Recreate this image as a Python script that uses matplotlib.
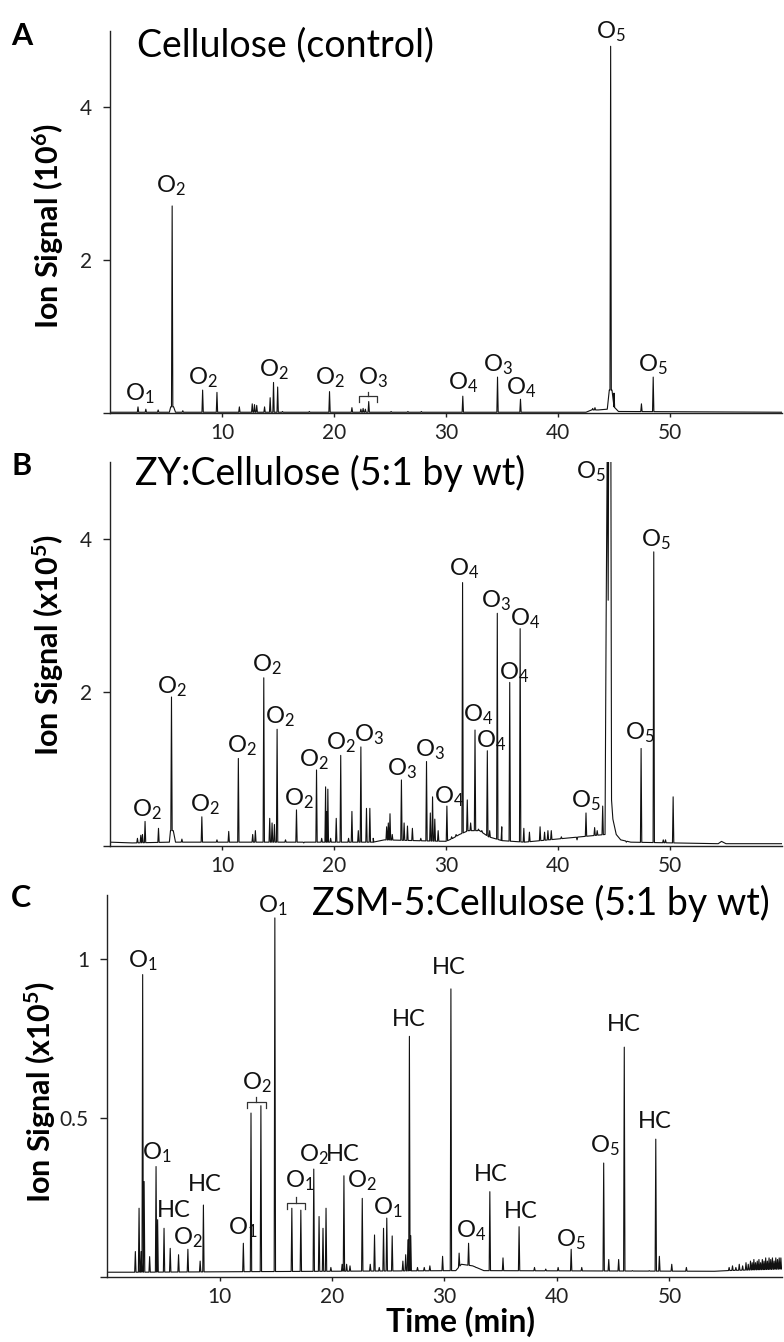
import numpy as np
import matplotlib
matplotlib.use("Agg")
import matplotlib.pyplot as plt

plt.rcParams['font.family'] = ['Lato', 'DejaVu Sans']
plt.rcParams['mathtext.fontset'] = 'custom'
plt.rcParams['mathtext.rm'] = 'Lato'
plt.rcParams['mathtext.default'] = 'regular'

# ---------------- data ----------------
# Panel A: Cellulose (control), signal in 1e6
A_base_t = [0.0, 5.3, 5.42, 5.68, 5.85, 42.5, 43.0, 43.6, 44.4, 44.58, 44.82, 45.0, 45.4, 60.0]
A_base_v = [0.01, 0.01, 0.08, 0.08, 0.01, 0.01, 0.04, 0.04, 0.05, 0.3, 0.3, 0.08, 0.02, 0.01]
A_peak_t = [2.5, 3.2, 4.3, 5.55, 6.5, 8.27, 9.55, 11.55, 12.7, 12.9, 13.1, 13.8, 14.3, 14.6,
            14.97, 15.4, 17.8, 19.6, 21.6, 22.4, 22.6, 22.8, 23.1, 25.1, 26.6, 27.8, 31.5,
            34.6, 36.65, 43.1, 43.3, 44.7, 45.0, 47.45, 48.5]
A_peak_h = [0.08, 0.05, 0.04, 2.71, 0.03, 0.30, 0.27, 0.08, 0.12, 0.11, 0.10, 0.08, 0.20, 0.40,
            0.34, 0.02, 0.02, 0.28, 0.07, 0.05, 0.06, 0.05, 0.15, 0.02, 0.02, 0.02, 0.22,
            0.47, 0.18, 0.06, 0.07, 4.80, 0.26, 0.12, 0.47]
A_lab_text = ['O$_1$', 'O$_2$', 'O$_2$', 'O$_2$', 'O$_2$', 'O$_3$', 'O$_4$', 'O$_3$', 'O$_4$', 'O$_5$', 'O$_5$']
A_lab_t = [2.7, 5.4, 8.3, 14.6, 19.6, 23.45, 31.5, 34.65, 36.7, 44.7, 48.5]
A_lab_v = [0.09, 2.81, 0.30, 0.41, 0.30, 0.30, 0.24, 0.47, 0.17, 4.83, 0.47]
A_brackets = [(22.2, 23.8, 0.148, 0.222, 0.28)]

# Panel B: ZY:Cellulose, signal in 1e5
B_base_t = [0.0, 2.0, 5.3, 5.4, 5.65, 5.85, 23.5, 24.5, 30.0, 30.6, 31.2, 32.0, 33.0, 33.8, 35.0,
            37.0, 44.2, 44.3, 44.4, 44.48, 44.52, 44.72, 44.78, 44.9, 45.2, 45.6, 46.5,
            54.3, 54.6, 55.0, 60.0]
B_base_v = [0.05, 0.04, 0.05, 0.2, 0.2, 0.05, 0.05, 0.08, 0.06, 0.10, 0.15, 0.20, 0.20, 0.12, 0.07,
            0.05, 0.15, 3.0, 5.3, 3.2, 5.3, 5.3, 0.6, 0.35, 0.15, 0.08, 0.05,
            0.03, 0.06, 0.03, 0.03]
B_peak_t = [2.45, 2.75, 2.9, 3.13, 4.33, 5.49, 6.42, 8.2, 9.55, 10.6, 11.46, 12.74, 12.98, 13.73,
            14.26, 14.47, 14.68, 14.92, 15.67, 16.65, 17.3, 17.6, 18.0, 18.44, 18.9, 19.25,
            19.35, 19.45, 19.7, 20.2, 20.6, 21.3, 21.6, 22.17, 22.4, 22.9, 23.2, 23.5, 24.7,
            24.85, 25.0, 25.2, 26.02, 26.26, 26.56, 27.0, 27.75, 28.26, 28.6, 28.8, 29.0, 29.3,
            30.08, 30.5, 30.9, 31.48, 31.9, 32.2, 32.59, 32.9, 33.2, 33.69, 33.9, 34.58, 34.98,
            35.69, 36.62, 36.95, 37.45, 38.4, 38.8, 39.1, 39.4, 40.3, 41.7, 42.5, 43.27, 43.5,
            43.99, 46.1, 47.42, 48.55, 49.4, 49.6, 50.28]
B_peak_h = [0.10, 0.14, 0.15, 0.32, 0.23, 1.94, 0.09, 0.38, 0.08, 0.19, 1.14, 0.15, 0.20, 2.19,
            0.36, 0.30, 0.28, 1.52, 0.08, 0.47, 0.04, 0.05, 0.05, 0.99, 0.10, 0.77,
            0.45, 0.74, 0.10, 0.36, 1.18, 0.10, 0.45, 0.20, 1.29, 0.49, 0.49, 0.10, 0.25,
            0.30, 0.42, 0.15, 0.86, 0.30, 0.26, 0.23, 0.10, 1.10, 0.43, 0.64, 0.35, 0.20,
            0.52, 0.12, 0.15, 3.43, 0.60, 0.30, 1.51, 0.22, 0.20, 1.24, 0.20, 3.03, 0.25,
            2.13, 2.83, 0.23, 0.18, 0.25, 0.18, 0.20, 0.20, 0.12, 0.08, 0.43, 0.24, 0.20,
            0.52, 0.05, 1.27, 3.83, 0.08, 0.08, 0.64]
B_lab_text = ['O$_2$'] * 9 + ['O$_3$', 'O$_3$', 'O$_3$', 'O$_4$', 'O$_4$', 'O$_4$', 'O$_4$', 'O$_3$',
                               'O$_4$', 'O$_4$', 'O$_5$', 'O$_5$', 'O$_5$', 'O$_5$']
B_lab_t = [3.3, 5.52, 8.5, 11.73, 13.97, 15.2, 16.9, 18.2, 20.65, 23.1, 26.1, 28.6, 30.3, 31.6,
           32.9, 34.0, 34.5, 36.05, 37.1, 42.45, 42.9, 47.3, 48.7]
B_lab_v = [0.31, 1.92, 0.38, 1.14, 2.2, 1.52, 0.46, 0.97, 1.18, 1.29, 0.84, 1.1, 0.48, 3.45,
           1.55, 1.21, 3.03, 2.09, 2.8, 0.43, 4.71, 1.31, 3.83]

# Panel C: ZSM-5:Cellulose, signal in 1e5
C_base_t = [0.0, 2.3, 31.0, 31.5, 32.5, 33.5, 54.0, 55.0, 60.0]
C_base_v = [0.015, 0.015, 0.02, 0.04, 0.035, 0.02, 0.018, 0.02, 0.025]
C_peak_t = [2.52, 2.85, 3.03, 3.17, 3.3, 3.79, 4.36, 4.5, 5.07, 5.62, 6.36, 7.19, 8.28, 8.57,
            12.12, 12.8, 13.68, 14.92, 16.43, 17.23, 18.38, 18.85, 19.2, 19.47, 19.9, 20.9,
            21.06, 21.3, 21.6, 22.69, 23.4, 23.78, 24.2, 24.58, 24.87, 25.35, 26.3, 26.55,
            26.75, 26.88, 27.0, 27.6, 28.2, 28.7, 29.83, 30.57, 31.3, 32.14, 32.8, 34.03,
            35.2, 36.63, 38.0, 39.0, 40.1, 41.26, 42.2, 44.15, 44.6, 45.48, 45.98, 46.7,
            48.2, 48.78, 49.1, 50.2, 51.5]
C_peak_h = [0.08, 0.216, 0.08, 0.95, 0.30, 0.064, 0.347, 0.18, 0.153, 0.09, 0.07, 0.087, 0.05, 0.226,
            0.106, 0.515, 0.538, 1.128, 0.216, 0.21, 0.339, 0.19, 0.153, 0.216, 0.03, 0.04,
            0.318, 0.04, 0.035, 0.247, 0.04, 0.132, 0.03, 0.153, 0.185, 0.129, 0.05, 0.07,
            0.117, 0.756, 0.13, 0.03, 0.03, 0.035, 0.065, 0.905, 0.075, 0.106, 0.03, 0.268,
            0.06, 0.158, 0.03, 0.025, 0.03, 0.087, 0.03, 0.358, 0.055, 0.055, 0.722, 0.02,
            0.02, 0.433, 0.065, 0.04, 0.03]
# noisy tail of panel C
C_noise_t = [55.3, 55.6, 55.9, 56.2, 56.5, 56.8, 57.0, 57.2, 57.35, 57.5, 57.65, 57.8, 57.95,
             58.1, 58.25, 58.4, 58.55, 58.7, 58.85, 59.0, 59.15, 59.3, 59.45, 59.6, 59.75, 59.9]
C_noise_h = [0.03, 0.035, 0.03, 0.04, 0.035, 0.045, 0.04, 0.05, 0.045, 0.055, 0.045, 0.05, 0.055,
             0.045, 0.055, 0.05, 0.06, 0.05, 0.06, 0.055, 0.06, 0.05, 0.06, 0.055, 0.06, 0.06]
C_lab_text = ['O$_1$', 'O$_1$', 'HC', 'O$_2$', 'HC', 'O$_1$', 'O$_2$', 'O$_1$', 'O$_1$', 'O$_2$',
              'HC', 'O$_2$', 'O$_1$', 'HC', 'HC', 'O$_4$', 'HC', 'HC', 'O$_5$', 'O$_5$', 'HC', 'HC']
C_lab_t = [3.2, 4.45, 5.9, 7.2, 8.67, 12.1, 13.35, 14.77, 17.14, 18.38, 21.0, 22.69, 24.95,
           26.84, 30.4, 32.4, 34.08, 36.75, 41.26, 44.21, 45.9, 48.7]
C_lab_v = [0.955, 0.352, 0.177, 0.085, 0.258, 0.116, 0.572, 1.128, 0.263, 0.347, 0.352, 0.263,
           0.18, 0.777, 0.939, 0.108, 0.289, 0.174, 0.08, 0.373, 0.761, 0.457]
C_brackets = [(12.45, 14.1, 0.53, 0.551, 0.567), (15.96, 17.58, 0.213, 0.234, 0.25)]

# ---------------- helpers ----------------
def build_trace(base_t, base_v, pk_t, pk_h, w=0.06):
    bt = np.asarray(base_t, float)
    bv = np.asarray(base_v, float)
    pt = np.asarray(pk_t, float)
    ph = np.asarray(pk_h, float)
    xs = np.concatenate([bt, pt - w, pt, pt + w])
    ys = np.concatenate([bv, np.interp(pt - w, bt, bv), ph, np.interp(pt + w, bt, bv)])
    order = np.argsort(xs, kind='stable')
    return xs[order], ys[order]


def style_axes(ax, ymax, yticks, ylabels):
    ax.set_xlim(0, 60)
    ax.set_ylim(0, ymax)
    for s in ['top', 'right']:
        ax.spines[s].set_visible(False)
    for s in ['left', 'bottom']:
        ax.spines[s].set_linewidth(1.0)
        ax.spines[s].set_color('#222222')
    ax.set_xticks([10, 20, 30, 40, 50])
    ax.set_yticks(yticks)
    ax.set_yticklabels(ylabels)
    ax.tick_params(axis='y', direction='out', length=5, width=1, pad=8, labelsize=15, colors='#222222')
    ax.tick_params(axis='x', direction='out', length=3, width=1, pad=4, labelsize=15, colors='#222222')


def draw_labels(ax, texts, ts, vs):
    for s, t, v in zip(texts, ts, vs):
        ax.text(t, v, s, ha='center', va='bottom', fontsize=17, color='#111111', clip_on=False)


def draw_brackets(ax, brackets):
    for x0, x1, yb, yt, ytick in brackets:
        xm = (x0 + x1) / 2
        ax.plot([x0, x0, x1, x1], [yb, yt, yt, yb], color='#333333', lw=0.9)
        ax.plot([xm, xm], [yt, ytick], color='#333333', lw=0.9)


W, H = 784, 1342
fig = plt.figure(figsize=(W / 100, H / 100), dpi=100)

def px_axes(left, top, right, bottom):
    return fig.add_axes([left / W, 1 - bottom / H, (right - left) / W, (bottom - top) / H])

axA = px_axes(110, 31, 782, 413)
axB = px_axes(110, 462, 782, 846)
axC = px_axes(107, 895, 782, 1277)

line_kw = dict(color='#111111', lw=0.8)

x, y = build_trace(A_base_t, A_base_v, A_peak_t, A_peak_h)
axA.plot(x, y, **line_kw)
style_axes(axA, 5, [0, 2, 4], ['', '2', '4'])
draw_labels(axA, A_lab_text, A_lab_t, A_lab_v)
draw_brackets(axA, A_brackets)

x, y = build_trace(B_base_t, B_base_v, B_peak_t, B_peak_h)
axB.plot(x, y, **line_kw)
style_axes(axB, 5, [0, 2, 4], ['', '2', '4'])
draw_labels(axB, B_lab_text, B_lab_t, B_lab_v)

x, y = build_trace(C_base_t, C_base_v, C_peak_t + C_noise_t, C_peak_h + C_noise_h)
axC.plot(x, y, **line_kw)
style_axes(axC, 1.2, [0, 0.5, 1], ['', '0.5', '1'])
draw_labels(axC, C_lab_text, C_lab_t, C_lab_v)
draw_brackets(axC, C_brackets)

# titles, panel letters, axis labels (figure pixel positions)
def ftext(xp, yp, s, **kw):
    fig.text(xp / W, 1 - yp / H, s, **kw)

ftext(137, 56, 'Cellulose (control)', fontsize=27, va='baseline', ha='left')
ftext(135, 485, 'ZY:Cellulose (5:1 by wt)', fontsize=27, va='baseline', ha='left')
ftext(312, 915, 'ZSM-5:Cellulose (5:1 by wt)', fontsize=27, va='baseline', ha='left')

for letter, yp in [('A', 22), ('B', 452), ('C', 884)]:
    ftext(11, yp, letter, fontsize=22, fontweight='bold', va='top', ha='left')

ftext(48, 226, 'Ion Signal (10$^6$)', fontsize=22, fontweight='bold', rotation=90, ha='center', va='center')
ftext(48, 645, 'Ion Signal (x10$^5$)', fontsize=22, fontweight='bold', rotation=90, ha='center', va='center')
ftext(40, 1092, 'Ion Signal (x10$^5$)', fontsize=22, fontweight='bold', rotation=90, ha='center', va='center')
ftext(461, 1322, 'Time (min)', fontsize=23, fontweight='bold', ha='center', va='center')

fig.savefig('out.png', dpi=100)
